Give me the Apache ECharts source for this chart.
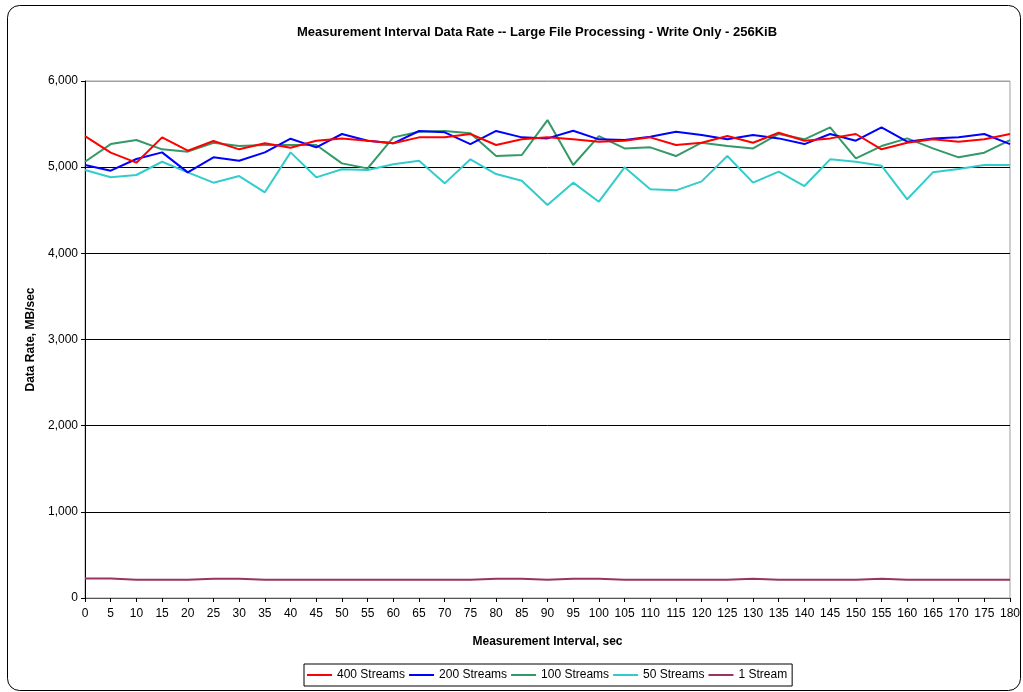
<!DOCTYPE html>
<html>
<head>
<meta charset="utf-8">
<script src="https://cdn.jsdelivr.net/npm/echarts@6/dist/echarts.min.js"></script>
<style>
  html, body { margin: 0; padding: 0; background: #fff; }
  #chart { width: 1023px; height: 692px; }
</style>
</head>
<body>
<div id="chart"></div>
<script>
var intervals = ['0', '5', '10', '15', '20', '25', '30', '35', '40', '45', '50', '55', '60', '65', '70', '75', '80', '85', '90',
  '95', '100', '105', '110', '115', '120', '125', '130', '135', '140', '145', '150', '155', '160', '165', '170', '175', '180']

var streams400 = [5361, 5168, 5052, 5346, 5191, 5303, 5207, 5277, 5226, 5307, 5334, 5307, 5277, 5346, 5346, 5385, 5257, 5323, 5346,
  5323, 5296, 5307, 5346, 5257, 5284, 5361, 5284, 5400, 5307, 5334, 5385, 5207, 5284, 5323, 5296, 5323, 5385]
var streams200 = [5025, 4959, 5095, 5172, 4940, 5114, 5075, 5172, 5330, 5230, 5385, 5307, 5277, 5420, 5404, 5268, 5420, 5346, 5334,
  5423, 5323, 5315, 5354, 5412, 5373, 5323, 5373, 5334, 5268, 5385, 5307, 5462, 5296, 5334, 5346, 5385, 5268]
var streams100 = [5063, 5268, 5315, 5207, 5180, 5284, 5245, 5257, 5257, 5257, 5044, 4986, 5346, 5412, 5420, 5393, 5129, 5141, 5547,
  5025, 5361, 5218, 5230, 5129, 5284, 5245, 5218, 5385, 5323, 5462, 5103, 5245, 5334, 5218, 5114, 5168, 5315]
var streams50 = [4967, 4882, 4909, 5063, 4940, 4820, 4897, 4708, 5172, 4882, 4975, 4967, 5033, 5075, 4812, 5091, 4920, 4843, 4561,
  4820, 4599, 4998, 4743, 4731, 4835, 5129, 4820, 4948, 4781, 5091, 5063, 5017, 4627, 4940, 4979, 5025, 5025]
var stream1 = [225, 225, 212, 212, 212, 222, 222, 212, 212, 212, 212, 212, 212, 212, 212, 212, 222, 222, 212,
  222, 222, 212, 212, 212, 212, 212, 222, 212, 212, 212, 212, 222, 212, 212, 212, 212, 212]

var seriesNames = ['400 Streams', '200 Streams', '100 Streams', '50 Streams', '1 Stream']
var seriesColors = ['#ff0000', '#0000ff', '#339966', '#33cccc', '#993366']
var seriesData = [streams400, streams200, streams100, streams50, stream1]

var font = 'Liberation Sans, Arial, sans-serif'
var chart = echarts.init(document.getElementById('chart'))

var option = {
  animation: false,
  backgroundColor: '#fff',
  textStyle: { fontFamily: font },
  graphic: [{
    type: 'rect',
    shape: { x: 7.5, y: 5.5, width: 1013, height: 685, r: 12 },
    style: { fill: 'none', stroke: '#000', lineWidth: 1 },
    silent: true
  }],
  title: {
    text: 'Measurement Interval Data Rate -- Large File Processing - Write Only - 256KiB',
    left: 532,
    textAlign: 'center',
    top: 21,
    textStyle: { fontSize: 13, fontWeight: 'bold', color: '#000', fontFamily: font }
  },
  legend: {
    data: seriesNames,
    left: 304,
    top: 664,
    icon: 'rect',
    itemWidth: 25,
    itemHeight: 2,
    itemGap: 4,
    padding: [5, 5, 5, 3],
    borderColor: '#000',
    borderWidth: 1,
    textStyle: { fontSize: 12, color: '#000', fontFamily: font }
  },
  grid: {
    left: 85,
    right: 13,
    top: 81,
    bottom: 94,
    show: true,
    borderColor: '#a0a0a0',
    borderWidth: 1
  },
  xAxis: {
    type: 'category',
    data: intervals,
    boundaryGap: false,
    name: 'Measurement Interval, sec',
    nameLocation: 'middle',
    nameGap: 38,
    nameTextStyle: { fontSize: 12, fontWeight: 'bold', color: '#000', fontFamily: font },
    axisLine: { lineStyle: { color: '#555', width: 1 } },
    axisTick: { show: true, inside: false, length: 4, interval: 0, lineStyle: { color: '#000' } },
    axisLabel: { interval: 0, fontSize: 12, color: '#000', margin: 10, fontFamily: font },
    splitLine: { show: false }
  },
  yAxis: {
    type: 'value',
    min: 0,
    max: 6000,
    interval: 1000,
    name: 'Data Rate, MB/sec',
    nameLocation: 'middle',
    nameGap: 46,
    nameTextStyle: { fontSize: 12, fontWeight: 'bold', color: '#000', fontFamily: font },
    axisLine: { show: true, lineStyle: { color: '#000', width: 1 } },
    axisTick: { show: true, inside: false, length: 4, lineStyle: { color: '#000' } },
    axisLabel: {
      fontSize: 12, color: '#000', margin: 7, fontFamily: font,
      formatter: function (v) { return v.toLocaleString('en-US') }
    },
    splitLine: {
      show: true,
      lineStyle: { color: ['#000', '#000', '#000', '#000', '#000', '#000', '#a0a0a0'], width: 1 }
    }
  },
  series: seriesNames.map(function (name, i) {
    return {
      name: name,
      type: 'line',
      data: seriesData[i],
      symbol: 'none',
      color: seriesColors[i],
      lineStyle: { width: 2, color: seriesColors[i] },
      z: 10 - i
    }
  })
}

chart.setOption(option)
</script>
</body>
</html>
